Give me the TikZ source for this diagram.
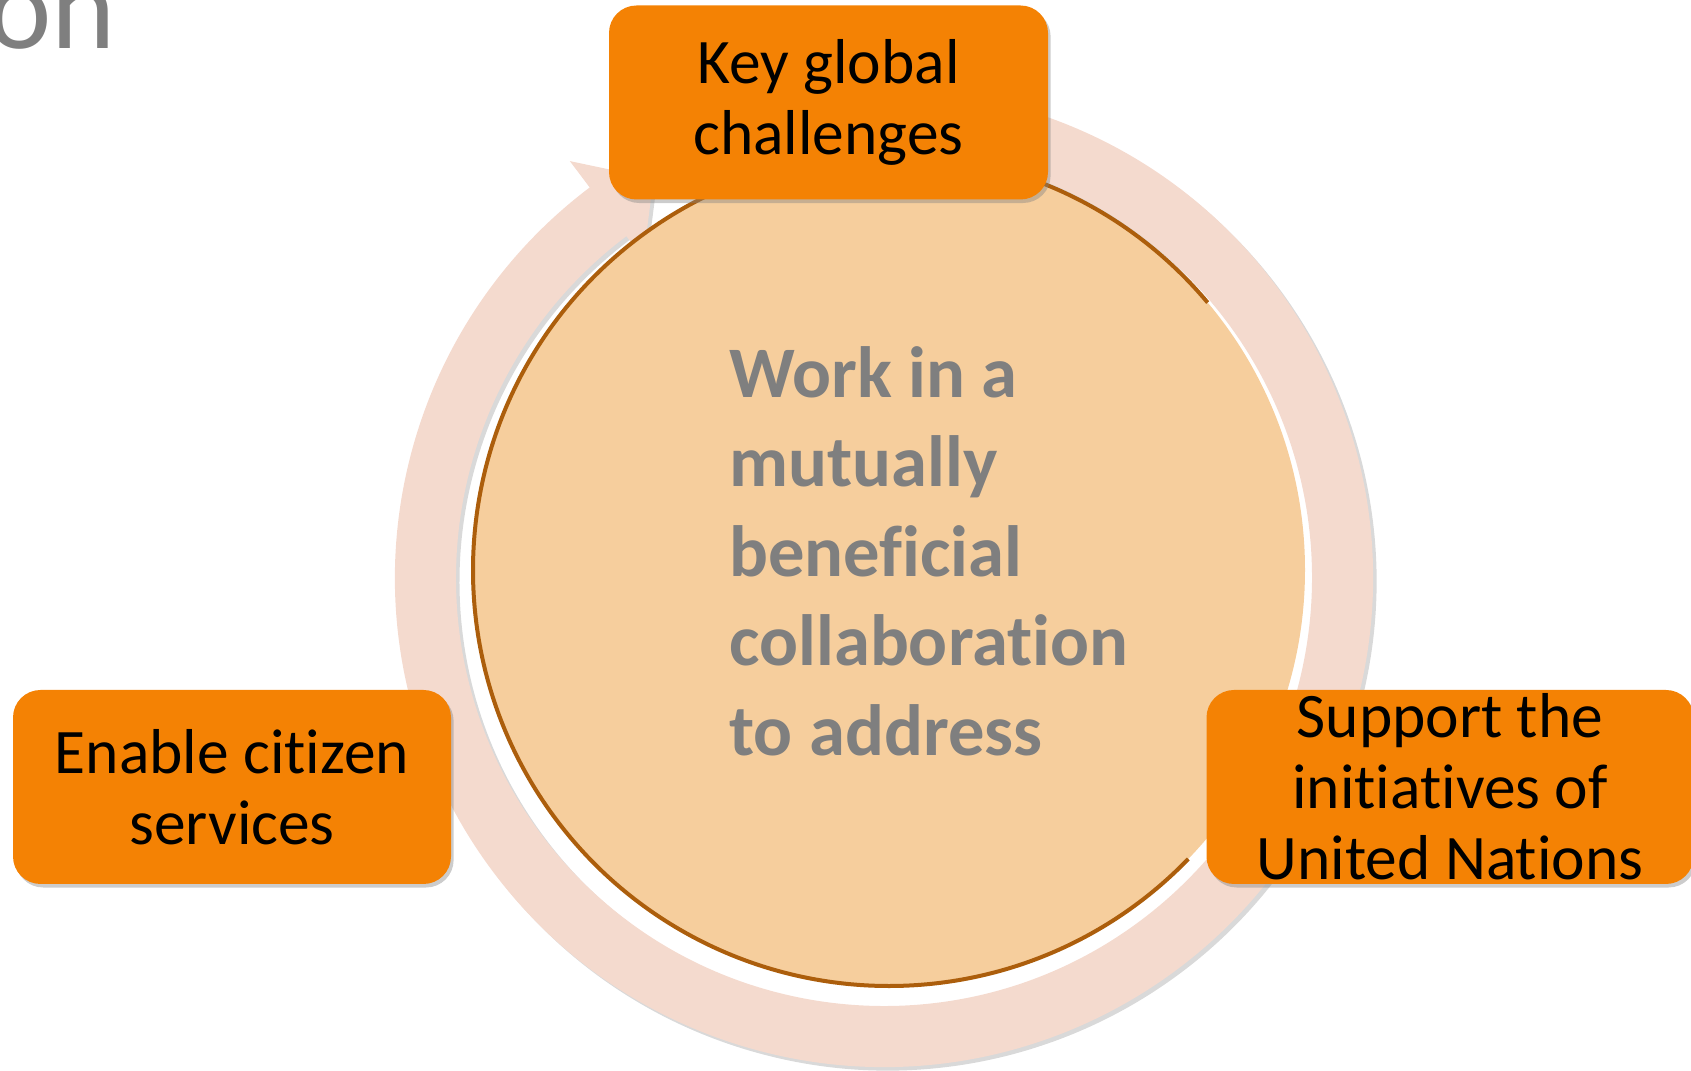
\documentclass[tikz,border=0pt]{standalone}
\usepackage{fontspec}
\setmainfont{Carlito}[Ligatures=NoCommon]
\usetikzlibrary{shadows}
\definecolor{boxorange}{RGB}{244,130,4}
\definecolor{ringpink}{RGB}{244,218,206}
\definecolor{discfill}{RGB}{246,206,157}
\definecolor{discline}{RGB}{172,94,12}
\definecolor{textgray}{RGB}{127,127,127}
\tikzset{
  aimbox/.style={fill=boxorange, rounded corners=0.55cm, minimum height=3.88cm,
    inner sep=0pt, align=center, text=black, font=\fontsize{36.1}{40.4}\selectfont,
    drop shadow={shadow xshift=1.5pt, shadow yshift=-2pt, opacity=0.4}},
}
\begin{document}
\begin{tikzpicture}
		%%%%% START %%%%%
		\useasboundingbox (0,0) rectangle (33.82,21.42);
		
		\node[anchor=base east, inner sep=0pt, text=textgray, font=\fontsize{69.4}{80}\selectfont] (heading) at (2.32,20.44) {on};
		
		% ring with arrow head
		\begin{scope}[shift={(17.68,9.86)}]
			\fill[ringpink, drop shadow={shadow xshift=2pt, shadow yshift=-2pt, opacity=0.3}]
				(73:9.78) arc[start angle=73, end angle=-233, radius=9.78]
				-- (127:10.44) -- (120:9.22) -- (127:8.00)
				-- (127:8.56) arc[start angle=-233, end angle=73, radius=8.56] -- cycle;
		\end{scope}
		
		% disc
		\fill[discfill] (17.78,10.02) circle (8.32);
		\draw[discline, line width=0.08cm] ([shift={(40:8.32)}]17.78,10.02) arc[start angle=40, end angle=316, radius=8.32];
		
		\node[anchor=west, align=left, inner sep=0pt, text=textgray, font=\bfseries\fontsize{41.3}{50.9}\selectfont] (aim) at (14.58,10.40) {Work in a\\mutually\\beneficial\\collaboration\\to address};
		
		\node[aimbox, minimum width=8.78cm] (challenges) at (16.57,19.37) {Key global\\challenges};
		\node[aimbox, minimum width=8.76cm] (citizens) at (4.64,5.68) {Enable citizen\\services};
		\node[aimbox, minimum width=9.74cm] (nations) at (29.00,5.68) {Support the\\initiatives of\\United Nations};
		
		%%%%% END %%%%%
\end{tikzpicture}
\end{document}
